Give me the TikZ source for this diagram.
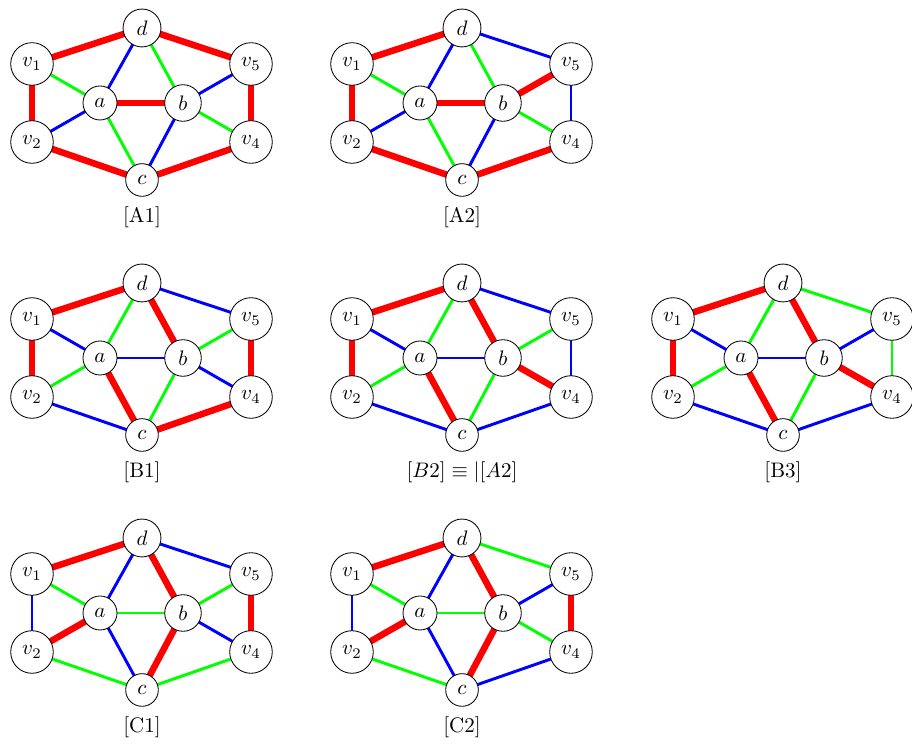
\documentclass[tikz,border=0pt]{standalone}
\usepackage{amsmath,amssymb}
\usepackage{xcolor}
\usepackage{tikz}
\usetikzlibrary{backgrounds}

\begin{document}
\begin{tikzpicture}[
  x=0.47619pt,
  y=0.47619pt,
  vertex/.style={circle,draw=black,line width=0.4pt,fill=white},
  caption/.style={inner sep=2pt},
  thickred/.style={draw=red,line width=3.1pt},
  thinblue/.style={draw=blue,line width=1.4pt},
  thingreen/.style={draw=green,line width=1.4pt}
]

% Page frame.
\useasboundingbox (0,0) rectangle (912,745);

% Seven copies of the same graph, one edge colouring each.
\foreach \g/\gx/\gy/\glabel/\edges in {
  A1/142/717/{[A1]}/{v1/d/thickred,d/v5/thickred,v1/v2/thickred,v5/v4/thickred,
    v2/c/thickred,c/v4/thickred,a/b/thickred,v1/a/thingreen,v2/a/thinblue,
    a/d/thinblue,a/c/thingreen,d/b/thingreen,b/c/thinblue,b/v5/thinblue,b/v4/thingreen},
  A2/462/717/{[A2]}/{v1/d/thickred,d/v5/thinblue,v1/v2/thickred,v5/v4/thinblue,
    v2/c/thickred,c/v4/thickred,a/b/thickred,v1/a/thingreen,v2/a/thinblue,
    a/d/thinblue,a/c/thingreen,d/b/thingreen,b/c/thinblue,b/v5/thickred,b/v4/thingreen},
  B1/142/462/{[B1]}/{v1/d/thickred,d/v5/thinblue,v1/v2/thickred,v5/v4/thickred,
    v2/c/thinblue,c/v4/thickred,a/b/thinblue,v1/a/thinblue,v2/a/thingreen,
    a/d/thingreen,a/c/thickred,d/b/thickred,b/c/thingreen,b/v5/thingreen,b/v4/thinblue},
  B2/462/462/{$[B2]\equiv|[A2]$}/{v1/d/thickred,d/v5/thinblue,v1/v2/thickred,v5/v4/thinblue,
    v2/c/thinblue,c/v4/thinblue,a/b/thinblue,v1/a/thinblue,v2/a/thingreen,
    a/d/thingreen,a/c/thickred,d/b/thickred,b/c/thingreen,b/v5/thingreen,b/v4/thickred},
  B3/783/462/{[B3]}/{v1/d/thickred,d/v5/thingreen,v1/v2/thickred,v5/v4/thingreen,
    v2/c/thinblue,c/v4/thinblue,a/b/thinblue,v1/a/thinblue,v2/a/thingreen,
    a/d/thingreen,a/c/thickred,d/b/thickred,b/c/thingreen,b/v5/thinblue,b/v4/thickred},
  C1/142/207/{[C1]}/{v1/d/thickred,d/v5/thinblue,v1/v2/thinblue,v5/v4/thickred,
    v2/c/thingreen,c/v4/thingreen,a/b/thingreen,v1/a/thingreen,v2/a/thickred,
    a/d/thinblue,a/c/thinblue,d/b/thickred,b/c/thickred,b/v5/thingreen,b/v4/thinblue},
  C2/462/207/{[C2]}/{v1/d/thickred,d/v5/thingreen,v1/v2/thinblue,v5/v4/thickred,
    v2/c/thingreen,c/v4/thinblue,a/b/thingreen,v1/a/thingreen,v2/a/thickred,
    a/d/thinblue,a/c/thinblue,d/b/thickred,b/c/thickred,b/v5/thinblue,b/v4/thingreen}%
}{
  \begin{scope}[shift={(\gx,\gy)}]
    \node[vertex] (\g-d) at (0,0) {$d$};
    \node[vertex] (\g-v1) at (-110,-36) {$v_1$};
    \node[vertex] (\g-v5) at (109,-36) {$v_5$};
    \node[vertex] (\g-a) at (-42,-75) {$a$};
    \node[vertex] (\g-b) at (41,-75) {$b$};
    \node[vertex] (\g-v2) at (-110,-114) {$v_2$};
    \node[vertex] (\g-v4) at (109,-114) {$v_4$};
    \node[vertex] (\g-c) at (0,-152) {$c$};
    \node[caption] (\g-label) at (0,-189) {\glabel};
    \begin{pgfonlayer}{background}
      \foreach \p/\q/\s in \edges {
        \draw[\s] (\g-\p.center) -- (\g-\q.center);
      }
    \end{pgfonlayer}
  \end{scope}
}

\end{tikzpicture}
\end{document}
